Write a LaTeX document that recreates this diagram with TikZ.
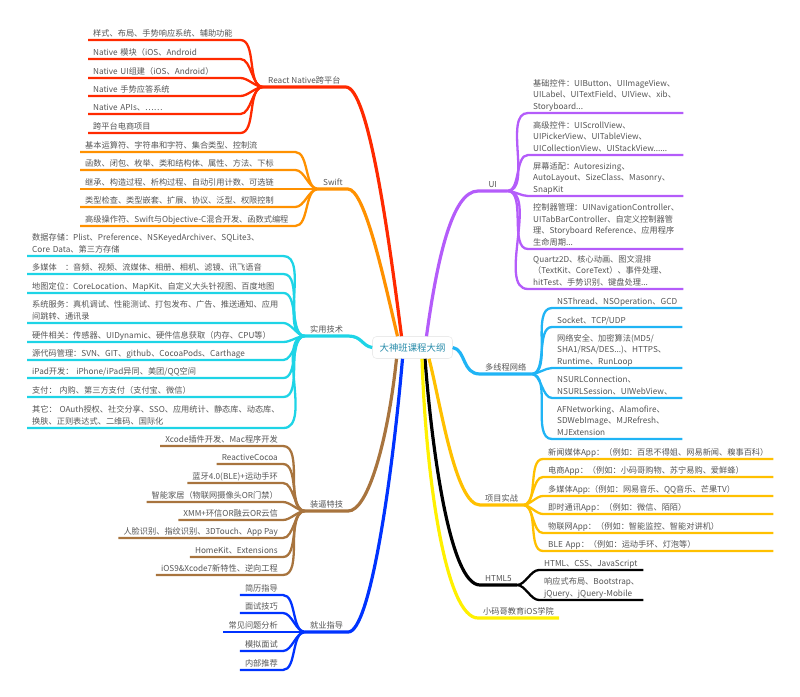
\documentclass[tikz,border=0pt]{standalone}
\usepackage{fontspec}
\setmainfont{Noto Sans CJK SC}
\usetikzlibrary{positioning}
\lefthyphenmin=64
\exhyphenpenalty=10000
\definecolor{rnred}{RGB}{255,42,0}
\definecolor{sworange}{RGB}{255,145,0}
\definecolor{techcyan}{RGB}{30,212,230}
\definecolor{trickbrown}{RGB}{168,116,62}
\definecolor{jobblue}{RGB}{0,51,255}
\definecolor{uipurple}{RGB}{180,92,250}
\definecolor{netsky}{RGB}{32,180,245}
\definecolor{projgold}{RGB}{255,192,0}
\definecolor{schoolyellow}{RGB}{255,240,0}
\definecolor{txtgray}{RGB}{85,85,85}
\definecolor{roottxt}{RGB}{40,140,170}
\tikzset{
    leaf_font/.style={
        font=\fontsize{8.2}{11.5}\selectfont, text=txtgray,
        execute at end node=\strut
    },
    leaf_left/.style={
        leaf_font, anchor=south west, align=left,
        inner xsep=5pt, inner ysep=0.3pt
    },
    leaf_right/.style={
        leaf_font, anchor=south east, align=right,
        inner xsep=5pt, inner ysep=0.3pt
    },
    branch_lbl/.style={
        leaf_font, anchor=south west, inner xsep=5pt, inner ysep=0.3pt
    },
    root_box/.style={
        rectangle, rounded corners=4pt, draw=black!8, fill=white, line width=0.6pt,
        minimum width=80pt, minimum height=22pt,
        font=\fontsize{9.4}{12}\selectfont, text=roottxt
    },
    main_line/.style={line width=3.2pt},
    twig_line/.style={line width=2.3pt},
    twig/.style={out=0, in=180, looseness=0.8}
}
\begin{document}
\begin{tikzpicture}[x=1pt, y=-1pt]
\useasboundingbox (0,0) rectangle (800,696);

% centre
\node[root_box] (root) at (412.5,347.5) {大神班课程大纲};

% branch labels
\node[branch_lbl] (rn) at (263,87) {React~Native跨平台};
\node[branch_lbl] (sw) at (318,189) {Swift};
\node[branch_lbl] (tech) at (305,336) {实用技术};
\node[branch_lbl] (trick) at (305,511) {装逼特技};
\node[branch_lbl] (job) at (305,632) {就业指导};
\node[branch_lbl, minimum width=29pt] (ui) at (478,191) {UI};
\node[branch_lbl] (net) at (480,374) {多线程网络};
\node[branch_lbl] (proj) at (480,505) {项目实战};
\node[branch_lbl] (html) at (480,585) {HTML5};
\node[branch_lbl] (school) at (478,618) {小码哥教育iOS学院};

% main branches
\draw[main_line, rnred] ([xshift=-11pt]root.north) .. controls (388,230) and (368,87) .. (rn.south east) -- (rn.south west);
\draw[main_line, sworange] ([xshift=-15pt]root.north) .. controls (384,280) and (365,189) .. (sw.south east) -- (sw.south west);
\draw[main_line, techcyan] (root.west) .. controls (362,346) and (362,336) .. (tech.south east) -- (tech.south west);
\draw[main_line, trickbrown] ([xshift=-16pt]root.south) .. controls (388,440) and (368,511) .. (trick.south east) -- (trick.south west);
\draw[main_line, jobblue] ([xshift=-10pt]root.south) .. controls (392,480) and (370,632) .. (job.south east) -- (job.south west);
\draw[main_line, uipurple] ([xshift=14pt]root.north) .. controls (437,260) and (452,191) .. (ui.south west) -- (ui.south east);
\draw[main_line, netsky] (root.east) .. controls (466,350) and (462,374) .. (net.south west) -- (net.south east);
\draw[main_line, projgold] ([xshift=16.5pt]root.south) .. controls (440,400) and (455,505) .. (proj.south west) -- (proj.south east);
\draw[main_line, black] ([xshift=12.5pt]root.south) .. controls (432,450) and (450,585) .. (html.south west) -- (html.south east);
\draw[main_line, schoolyellow] ([xshift=9.5pt]root.south) .. controls (426,480) and (446,618) .. (school.south west) -- (school.south east);

% React Native
\node[leaf_left, text width=142pt] (rn1) at (88,40) {样式、布局、手势响应系统、辅助功能};
\node[leaf_left, text width=142pt] (rn2) at (88,59) {Native~模块（iOS、Android};
\node[leaf_left, text width=142pt] (rn3) at (88,78) {Native~UI组建（iOS、Android）};
\node[leaf_left, text width=142pt] (rn4) at (88,96) {Native~手势应答系统};
\node[leaf_left, text width=142pt] (rn5) at (88,114) {Native~APIs、……};
\node[leaf_left, text width=142pt] (rn6) at (88,133) {跨平台电商项目};
\draw[twig_line, rnred] (rn1.south west) -- (rn1.south east) to[twig] (rn.south west);
\draw[twig_line, rnred] (rn2.south west) -- (rn2.south east) to[twig] (rn.south west);
\draw[twig_line, rnred] (rn3.south west) -- (rn3.south east) to[twig] (rn.south west);
\draw[twig_line, rnred] (rn4.south west) -- (rn4.south east) to[twig] (rn.south west);
\draw[twig_line, rnred] (rn5.south west) -- (rn5.south east) to[twig] (rn.south west);
\draw[twig_line, rnred] (rn6.south west) -- (rn6.south east) to[twig] (rn.south west);

% Swift
\node[leaf_left, text width=205pt] (sw1) at (80,152) {基本运算符、字符串和字符、集合类型、控制流};
\node[leaf_left, text width=205pt] (sw2) at (80,170) {函数、闭包、枚举、类和结构体、属性、方法、下标};
\node[leaf_left, text width=205pt] (sw3) at (80,189) {继承、构造过程、析构过程、自动引用计数、可选链};
\node[leaf_left, text width=205pt] (sw4) at (80,207) {类型检查、类型嵌套、扩展、协议、泛型、权限控制};
\node[leaf_left, text width=205pt] (sw5) at (80,226) {高级操作符、Swift与Objective-C混合开发、函数式编程};
\draw[twig_line, sworange] (sw1.south west) -- (sw1.south east) to[twig] (sw.south west);
\draw[twig_line, sworange] (sw2.south west) -- (sw2.south east) to[twig] (sw.south west);
\draw[twig_line, sworange] (sw3.south west) -- (sw3.south east) -- (sw.south west);
\draw[twig_line, sworange] (sw4.south west) -- (sw4.south east) to[twig] (sw.south west);
\draw[twig_line, sworange] (sw5.south west) -- (sw5.south east) to[twig] (sw.south west);

% practical techniques
\node[leaf_left, text width=246pt] (tech1) at (27,256) {数据存储：Plist、Preference、NSKeyedArchiver、SQLite3、\\Core~Data、第三方存储};
\node[leaf_left, text width=246pt] (tech2) at (27,274) {多媒体　：音频、视频、流媒体、相册、相机、滤镜、讯飞语音};
\node[leaf_left, text width=246pt] (tech3) at (27,293) {地图定位：CoreLocation、MapKit、自定义大头针视图、百度地图};
\node[leaf_left, text width=246pt] (tech4) at (27,323) {系统服务：真机调试、性能测试、打包发布、广告、推送通知、应用\\间跳转、通讯录};
\node[leaf_left, text width=246pt] (tech5) at (27,342) {硬件相关：传感器、UIDynamic、硬件信息获取（内存、CPU等）};
\node[leaf_left, text width=246pt] (tech6) at (27,360) {源代码管理：SVN、GIT、github、CocoaPods、Carthage};
\node[leaf_left, text width=246pt] (tech7) at (27,378) {iPad开发：~iPhone/iPad异同、美团/QQ空间};
\node[leaf_left, text width=246pt] (tech8) at (27,397) {支付：~内购、第三方支付（支付宝、微信）};
\node[leaf_left, text width=246pt] (tech9) at (27,428) {其它：~OAuth授权、社交分享、SSO、应用统计、静态库、动态库、\\换肤、正则表达式、二维码、国际化};
\draw[twig_line, techcyan] (tech1.south west) -- (tech1.south east) to[twig] (tech.south west);
\draw[twig_line, techcyan] (tech2.south west) -- (tech2.south east) to[twig] (tech.south west);
\draw[twig_line, techcyan] (tech3.south west) -- (tech3.south east) to[twig] (tech.south west);
\draw[twig_line, techcyan] (tech4.south west) -- (tech4.south east) to[twig] (tech.south west);
\draw[twig_line, techcyan] (tech5.south west) -- (tech5.south east) to[twig] (tech.south west);
\draw[twig_line, techcyan] (tech6.south west) -- (tech6.south east) to[twig] (tech.south west);
\draw[twig_line, techcyan] (tech7.south west) -- (tech7.south east) to[twig] (tech.south west);
\draw[twig_line, techcyan] (tech8.south west) -- (tech8.south east) to[twig] (tech.south west);
\draw[twig_line, techcyan] (tech9.south west) -- (tech9.south east) to[twig] (tech.south west);

% tricks
\node[leaf_right] (trick1) at (283,446) {Xcode插件开发、Mac程序开发};
\node[leaf_right] (trick2) at (283,464) {ReactiveCocoa};
\node[leaf_right] (trick3) at (283,483) {蓝牙4.0(BLE)+运动手环};
\node[leaf_right] (trick4) at (283,502) {智能家居（物联网摄像头OR门禁）};
\node[leaf_right] (trick5) at (283,520) {XMM+环信OR融云OR云信};
\node[leaf_right] (trick6) at (283,538) {人脸识别、指纹识别、3DTouch、App~Pay};
\node[leaf_right] (trick7) at (283,557) {HomeKit、Extensions};
\node[leaf_right] (trick8) at (283,575) {iOS9\&Xcode7新特性、逆向工程};
\draw[twig_line, trickbrown] (trick1.south west) -- (trick1.south east) to[twig] (trick.south west);
\draw[twig_line, trickbrown] (trick2.south west) -- (trick2.south east) to[twig] (trick.south west);
\draw[twig_line, trickbrown] (trick3.south west) -- (trick3.south east) to[twig] (trick.south west);
\draw[twig_line, trickbrown] (trick4.south west) -- (trick4.south east) to[twig] (trick.south west);
\draw[twig_line, trickbrown] (trick5.south west) -- (trick5.south east) to[twig] (trick.south west);
\draw[twig_line, trickbrown] (trick6.south west) -- (trick6.south east) to[twig] (trick.south west);
\draw[twig_line, trickbrown] (trick7.south west) -- (trick7.south east) to[twig] (trick.south west);
\draw[twig_line, trickbrown] (trick8.south west) -- (trick8.south east) to[twig] (trick.south west);

% jobs
\node[leaf_right] (job1) at (283,595) {简历指导};
\node[leaf_right] (job2) at (283,613) {面试技巧};
\node[leaf_right] (job3) at (283,632) {常见问题分析};
\node[leaf_right] (job4) at (283,651) {模拟面试};
\node[leaf_right] (job5) at (283,670) {内部推荐};
\draw[twig_line, jobblue] (job1.south west) -- (job1.south east) to[twig] (job.south west);
\draw[twig_line, jobblue] (job2.south west) -- (job2.south east) to[twig] (job.south west);
\draw[twig_line, jobblue] (job3.south west) -- (job3.south east) -- (job.south west);
\draw[twig_line, jobblue] (job4.south west) -- (job4.south east) to[twig] (job.south west);
\draw[twig_line, jobblue] (job5.south west) -- (job5.south east) to[twig] (job.south west);

% UI
\node[leaf_left, text width=145pt] (ui1) at (528,113) {基础控件：UIButton、UIImageView、\\UILabel、UITextField、UIView、xib、\\Storyboard...};
\node[leaf_left, text width=145pt] (ui2) at (528,155) {高级控件：UIScrollView、\\UIPickerView、UITableView、\\UICollectionView、UIStackView......};
\node[leaf_left, text width=145pt] (ui3) at (528,196) {屏幕适配：Autoresizing、\\AutoLayout、SizeClass、Masonry、\\SnapKit};
\node[leaf_left, text width=145pt] (ui4) at (528,249) {控制器管理：UINavigationController、\\UITabBarController、自定义控制器管\\理、Storyboard~Reference、应用程序\\生命周期...};
\node[leaf_left, text width=145pt] (ui5) at (528,289) {Quartz2D、核心动画、图文混排\\（TextKit、CoreText）、事件处理、\\hitTest、手势识别、键盘处理...};
\draw[twig_line, uipurple] (ui.south east) to[twig] (ui1.south west) -- (ui1.south east);
\draw[twig_line, uipurple] (ui.south east) to[twig] (ui2.south west) -- (ui2.south east);
\draw[twig_line, uipurple] (ui.south east) to[twig] (ui3.south west) -- (ui3.south east);
\draw[twig_line, uipurple] (ui.south east) to[twig] (ui4.south west) -- (ui4.south east);
\draw[twig_line, uipurple] (ui.south east) to[twig] (ui5.south west) -- (ui5.south east);

% threads and network
\node[leaf_left, text width=120pt] (net1) at (552,308) {NSThread、NSOperation、GCD};
\node[leaf_left, text width=120pt] (net2) at (552,327) {Socket、TCP/UDP};
\node[leaf_left, text width=120pt] (net3) at (552,368) {网络安全、加密算法(MD5/\\SHA1/RSA/DES...)、HTTPS、\\Runtime、RunLoop};
\node[leaf_left, text width=120pt] (net4) at (552,398) {NSURLConnection、\\NSURLSession、UIWebView、};
\node[leaf_left, text width=120pt] (net5) at (552,439) {AFNetworking、Alamofire、\\SDWebImage、MJRefresh、\\MJExtension};
\draw[twig_line, netsky] (net.south east) to[twig] (net1.south west) -- (net1.south east);
\draw[twig_line, netsky] (net.south east) to[twig] (net2.south west) -- (net2.south east);
\draw[twig_line, netsky] (net.south east) to[twig] (net3.south west) -- (net3.south east);
\draw[twig_line, netsky] (net.south east) to[twig] (net4.south west) -- (net4.south east);
\draw[twig_line, netsky] (net.south east) to[twig] (net5.south west) -- (net5.south east);

% projects
\node[leaf_left, text width=220pt] (proj1) at (543,459) {新闻媒体App：（例如：百思不得姐、网易新闻、糗事百科）};
\node[leaf_left, text width=220pt] (proj2) at (543,477) {电商App：（例如：小码哥购物、苏宁易购、爱鲜蜂）};
\node[leaf_left, text width=220pt] (proj3) at (543,496) {多媒体App:（例如：网易音乐、QQ音乐、芒果TV）};
\node[leaf_left, text width=220pt] (proj4) at (543,514) {即时通讯App：（例如：微信、陌陌）};
\node[leaf_left, text width=220pt] (proj5) at (543,533) {物联网App：（例如：智能监控、智能对讲机）};
\node[leaf_left, text width=220pt] (proj6) at (543,551) {BLE~App：（例如：运动手环、灯泡等）};
\draw[twig_line, projgold] (proj.south east) to[twig] (proj1.south west) -- (proj1.south east);
\draw[twig_line, projgold] (proj.south east) to[twig] (proj2.south west) -- (proj2.south east);
\draw[twig_line, projgold] (proj.south east) to[twig] (proj3.south west) -- (proj3.south east);
\draw[twig_line, projgold] (proj.south east) to[twig] (proj4.south west) -- (proj4.south east);
\draw[twig_line, projgold] (proj.south east) to[twig] (proj5.south west) -- (proj5.south east);
\draw[twig_line, projgold] (proj.south east) to[twig] (proj6.south west) -- (proj6.south east);

% HTML5
\node[leaf_left, text width=94pt] (html1) at (539,570) {HTML、CSS、JavaScript};
\node[leaf_left, text width=94pt] (html2) at (539,600) {响应式布局、Bootstrap、\\jQuery、jQuery-Mobile};
\draw[twig_line, black] (html.south east) to[twig] (html1.south west) -- (html1.south east);
\draw[twig_line, black] (html.south east) to[twig] (html2.south west) -- (html2.south east);
\end{tikzpicture}
\end{document}
